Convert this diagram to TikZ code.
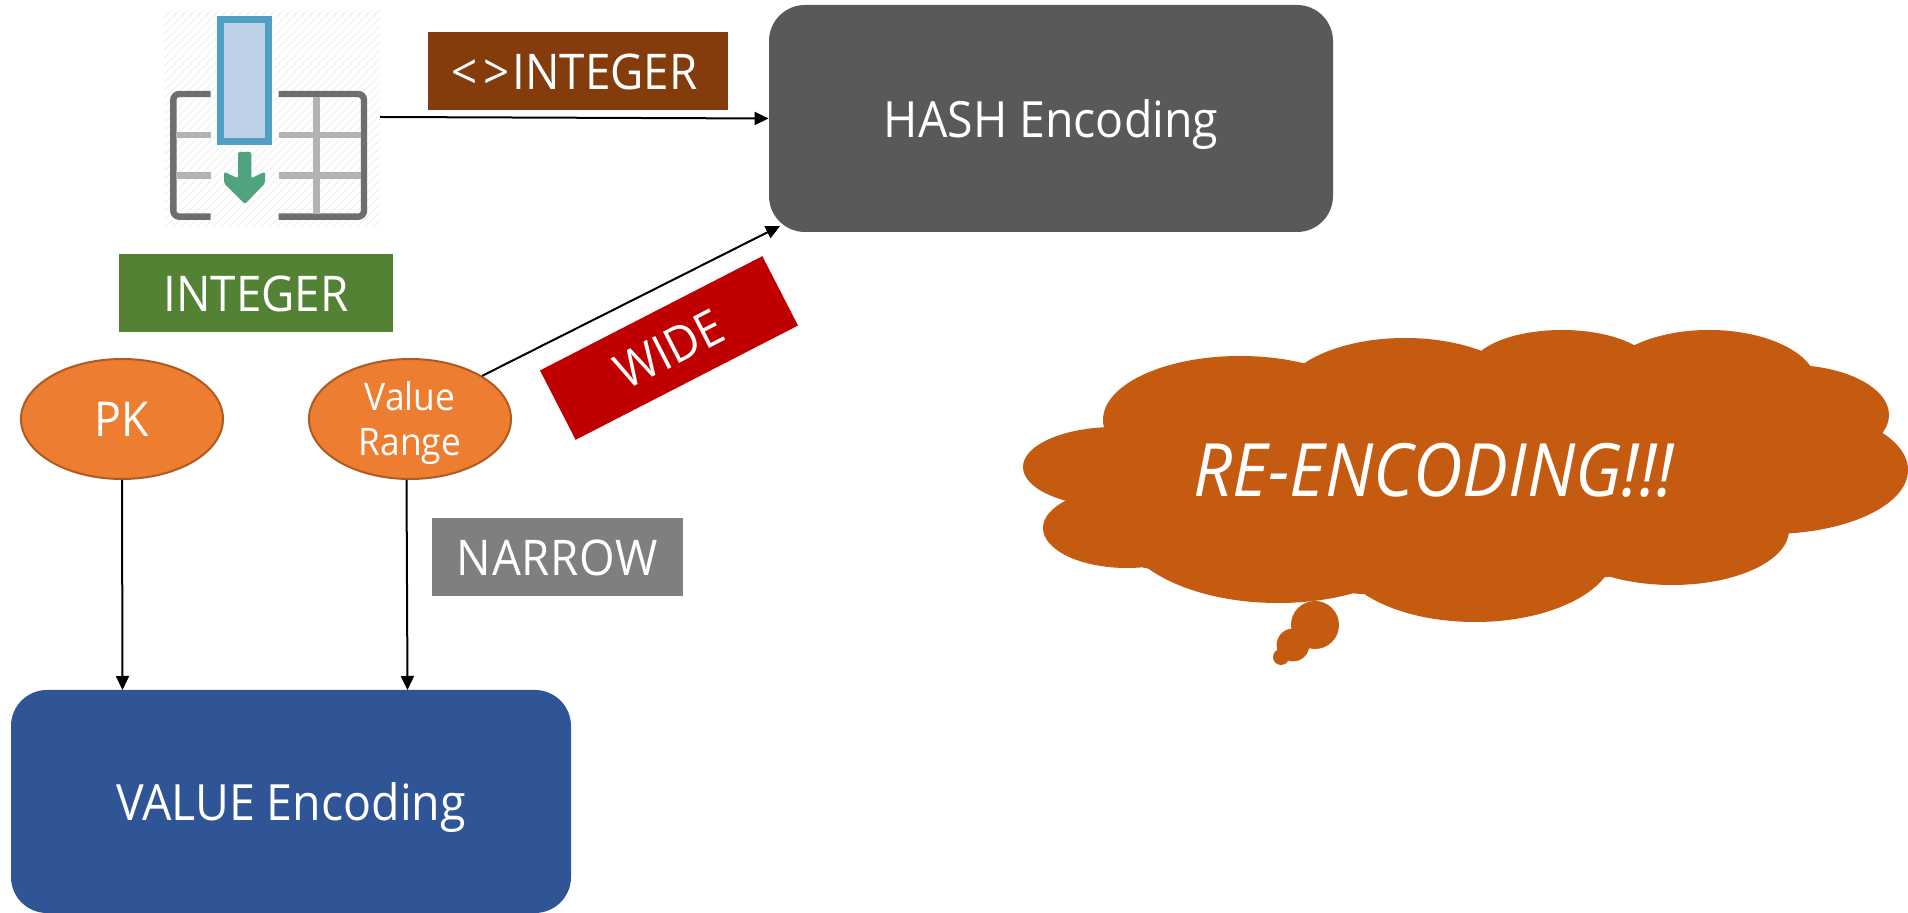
\documentclass[tikz,border=0pt]{standalone}
\usepackage{fontspec}
\setmainfont{Open Sans}[FakeStretch=0.93]
\usetikzlibrary{arrows.meta,shapes.geometric}
\definecolor{hashc}{HTML}{595959}
\definecolor{valuec}{HTML}{2F5597}
\definecolor{brownc}{HTML}{843C0C}
\definecolor{greenc}{HTML}{548235}
\definecolor{grayc}{HTML}{7F7F7F}
\definecolor{redc}{HTML}{C00000}
\definecolor{orangec}{HTML}{ED7D31}
\definecolor{orangeb}{HTML}{AE5A21}
\definecolor{cloudc}{HTML}{C55A11}
\definecolor{iconblue}{HTML}{4E9FC3}
\definecolor{iconfill}{HTML}{BDD0E6}
\definecolor{icondark}{HTML}{6D6E71}
\definecolor{iconlight}{HTML}{B3B3B3}
\definecolor{icongreen}{HTML}{4FA37E}
\definecolor{iconhatch}{HTML}{F1F1F1}
\tikzset{
  bigbox/.style={rounded corners=18pt,inner sep=0pt,text=white,text depth=0pt,font=\fontsize{25}{30}\selectfont},
  tagbox/.style={inner sep=0pt,text=white,text depth=0pt,text height=18.6pt,font=\fontsize{24.6}{28}\selectfont},
  oval/.style={ellipse,fill=orangec,draw=orangeb,line width=1pt,minimum width=101pt,minimum height=60pt,inner sep=-6pt,text=white},
  conn/.style={draw=black,line width=1pt,-{Triangle[length=7pt,width=6.5pt]}},
  darkline/.style={draw=icondark,line width=3.2pt},
  lightline/.style={draw=iconlight,line width=3.2pt},
}
\begin{document}
\begin{tikzpicture}[x=0.5pt,y=-0.5pt]
\useasboundingbox (0,0) rectangle (1908,913);
% icon
\begin{scope}
\clip (165,10) rectangle (380,227);
\foreach \k in {-60,...,60}{
  \draw[iconhatch,line width=0.6pt] (165+\k*8,227) -- (380+\k*8,10);
}
\end{scope}
\draw[darkline,rounded corners=3pt] (210.7,94) -- (173.3,94) -- (173.3,216.7) -- (210.7,216.7);
\draw[darkline,rounded corners=3pt] (278.7,94) -- (364,94) -- (364,216.7) -- (278.7,216.7);
\draw[lightline] (176,135) -- (210.7,135);
\draw[lightline] (176,175.7) -- (210.7,175.7);
\draw[lightline] (278.7,135) -- (361,135);
\draw[lightline] (278.7,175.7) -- (361,175.7);
\draw[lightline] (316.3,97) -- (316.3,214);
\draw[draw=iconblue,fill=iconfill,line width=3.3pt] (220.5,19.3) rectangle (268.5,141.7);
\fill[icongreen,rounded corners=1pt] (238,152) -- (251.3,152) -- (251.3,178.3) -- (265,171.7) -- (265,183.3) -- (245,204) -- (224,183.3) -- (224,171.7) -- (238,178.3) -- cycle;
% boxes
\node[bigbox,fill=hashc,minimum width=282pt,minimum height=113.5pt] (hash) at (1051,118.5) {HASH Encoding};
\node[bigbox,fill=valuec,minimum width=280pt,minimum height=111.5pt] (value) at (291,801.5) {VALUE Encoding};
\node[tagbox,fill=brownc,minimum width=150pt,minimum height=39pt] (nottag) at (578,71) {\kern-3.6pt<\kern3pt>\kern1.5pt INTEGER};
\node[tagbox,fill=greenc,minimum width=137pt,minimum height=39pt] (inttag) at (256,293) {INTEGER};
\node[tagbox,fill=grayc,minimum width=125.5pt,minimum height=39pt] (narrowtag) at (557.5,557) {N\kern0.3pt A\kern0.3pt R\kern0.3pt R\kern0.3pt O\kern0.3pt W};
\node[tagbox,fill=redc,minimum width=125pt,minimum height=39pt,rotate=27.2] (widetag) at (669,348) {WIDE};
% ovals
\node[oval,font=\fontsize{24}{28}\selectfont] (pk) at (122,419) {PK};
\node[oval,font=\fontsize{19}{22.5}\selectfont,align=center] (vr) at (410,419) {\rule{0pt}{18.4pt}Value\\Range};
% connectors
\coordinate (iconout) at (380,117);
\coordinate (pkin) at (122.5,690);
\coordinate (vrin) at (407.5,690);
\coordinate (hashin) at (780,226);
\draw[conn] (iconout) -- (hash.west);
\draw[conn] (pk.south) -- (pkin);
\draw[conn] ([xshift=-1.75pt]vr.south) -- (vrin);
\draw[conn] (vr.north east) -- (hashin);
% cloud
\begin{scope}[cloudc]
\fill (1104,427) -- (1310,364) -- (1483,353) -- (1634,346) -- (1808,367) -- (1880,433) -- (1789,533) -- (1608,577) -- (1360,594) -- (1144,568) -- (1067,501) -- cycle;
\fill (1240,420) ellipse [x radius=68.5pt,y radius=32pt];
\fill (1405,400) ellipse [x radius=62.5pt,y radius=31pt];
\fill (1562,370) ellipse [x radius=46pt,y radius=20pt];
\fill (1709,385) ellipse [x radius=54pt,y radius=27.5pt];
\fill (1790,415) ellipse [x radius=49.5pt,y radius=25pt];
\fill (1770,470) ellipse [x radius=69pt,y radius=32pt];
\fill (1672,530) ellipse [x radius=58.5pt,y radius=27.5pt];
\fill (1475,550) ellipse [x radius=70pt,y radius=36pt];
\fill (1278,520) ellipse [x radius=80pt,y radius=41.5pt];
\fill (1127,528) ellipse [x radius=42pt,y radius=20pt];
\fill (1115,467) ellipse [x radius=46pt,y radius=20pt];
\fill (1315,625) circle [radius=12pt];
\fill (1293,645) circle [radius=8.2pt];
\fill (1281,657) circle [radius=4pt];
\end{scope}
\node[inner sep=0pt,text=white,font=\fontsize{36.8}{40}\selectfont\itshape] (retext) at (1434,470) {RE-ENCODING!!!};
\end{tikzpicture}
\end{document}
